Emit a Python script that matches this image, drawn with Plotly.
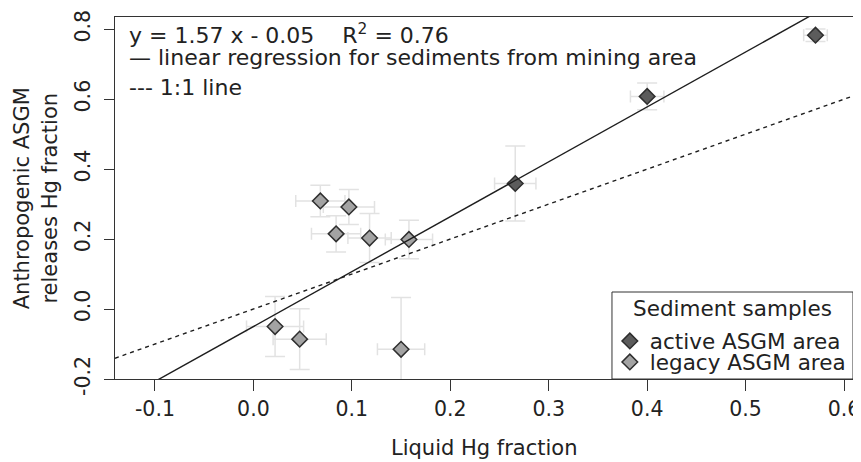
import plotly.graph_objects as go

# ---- data ----
active_x = [0.571, 0.400, 0.266]
active_y = [0.783, 0.608, 0.359]
active_xerr = [0.012, 0.017, 0.021]
active_yerr = [0.018, 0.038, 0.107]

legacy_x = [0.068, 0.097, 0.084, 0.118, 0.158, 0.022, 0.047, 0.150]
legacy_y = [0.309, 0.292, 0.215, 0.203, 0.199, -0.050, -0.086, -0.115]
legacy_xerr = [0.025, 0.026, 0.025, 0.022, 0.024, 0.029, 0.027, 0.024]
legacy_yerr = [0.045, 0.050, 0.052, 0.070, 0.055, 0.086, 0.087, 0.148]

slope = 1.57
intercept = -0.05
r2 = 0.76

x_range = [-0.1406, 0.6091]
y_range = [-0.2, 0.835]
x_ticks = [-0.1, 0.0, 0.1, 0.2, 0.3, 0.4, 0.5, 0.6]
x_ticklabels = ["-0.1", "0.0", "0.1", "0.2", "0.3", "0.4", "0.5", "0.6"]
y_ticks = [-0.2, 0.0, 0.2, 0.4, 0.6, 0.8]
y_ticklabels = ["-0.2", "0.0", "0.2", "0.4", "0.6", "0.8"]

FONT = "DejaVu Sans"
TXT = "#222222"
ERR = "#e2e2e2"
EDGE = "#2e2e2e"

fig = go.Figure()

def err(arr, w):
    return dict(type="data", array=arr, visible=True, color=ERR, thickness=1.5, width=w)

fig.add_trace(go.Scatter(
    x=active_x, y=active_y, mode="markers", name="active ASGM area", legend="legend",
    error_x=err(active_xerr, 6), error_y=err(active_yerr, 10),
    marker=dict(symbol="diamond", size=12, color="#5c5c5c", line=dict(color=EDGE, width=1.5)),
))
fig.add_trace(go.Scatter(
    x=legacy_x, y=legacy_y, mode="markers", name="legacy ASGM area", legend="legend2",
    error_x=err(legacy_xerr, 6), error_y=err(legacy_yerr, 10), cliponaxis=False,
    marker=dict(symbol="diamond", size=12, color="#a3a3a3", line=dict(color=EDGE, width=1.5)),
))

# regression line and 1:1 line across the axis range
lx = [x_range[0], x_range[1]]
fig.add_trace(go.Scatter(
    x=lx, y=[slope * v + intercept for v in lx], mode="lines", showlegend=False,
    line=dict(color="#1e1e1e", width=1.4), hoverinfo="skip",
))
fig.add_trace(go.Scatter(
    x=lx, y=lx, mode="lines", showlegend=False,
    line=dict(color="#1e1e1e", width=1.4, dash="4px,4px"), hoverinfo="skip",
))

axis_common = dict(
    showline=True, linecolor="#333333", linewidth=1, mirror=True,
    ticks="outside", tickcolor="#333333", tickwidth=1,
    showgrid=False, zeroline=False, automargin=False,
    tickfont=dict(family=FONT, size=20.5, color=TXT),
)
fig.update_xaxes(range=x_range, tickvals=x_ticks, ticktext=x_ticklabels,
                 ticklen=11, ticklabelstandoff=0, **axis_common)
fig.update_yaxes(range=y_range, tickvals=y_ticks, ticktext=y_ticklabels,
                 ticklen=10, tickangle=-90, ticklabelstandoff=6, **axis_common)

nb = "\u00a0"
texts = [
    (f"y = {slope:.2f} x - {abs(intercept):.2f}{nb*4}R<sup>2</sup> = {r2:.2f}", 0.952),
    ("\u2014 linear regression for sediments from mining area", 0.888),
    ("--- 1:1 line", 0.806),
]
annotations = []
for t, yy in texts:
    annotations.append(dict(text=t, xref="paper", yref="paper", x=0.016, y=yy,
                            xanchor="left", yanchor="middle", showarrow=False,
                            font=dict(family=FONT, size=22, color=TXT)))
annotations.append(dict(text="Liquid Hg fraction", xref="paper", yref="paper",
                        x=0.5, y=-0.19, xanchor="center", yanchor="middle", showarrow=False,
                        font=dict(family=FONT, size=21, color=TXT)))
annotations.append(dict(text="Anthropogenic ASGM<br>releases Hg fraction", xref="paper", yref="paper",
                        x=-0.108, y=0.5, xanchor="center", yanchor="middle", showarrow=False,
                        textangle=-90,
                        font=dict(family=FONT, size=21, color=TXT)))
# legend title
annotations.append(dict(text="Sediment samples", xref="paper", yref="paper",
                        x=0.8367, y=0.196, xanchor="center", yanchor="middle", showarrow=False,
                        font=dict(family=FONT, size=21.5, color=TXT)))

leg_common = dict(
    xanchor="left", yanchor="middle",
    bgcolor="rgba(0,0,0,0)", borderwidth=0,
    font=dict(family=FONT, size=21.5, color=TXT),
    itemwidth=30, tracegroupgap=0,
)

fig.update_layout(
    width=853, height=454,
    margin=dict(l=107, r=8, t=9, b=83, autoexpand=False),
    paper_bgcolor="white", plot_bgcolor="white",
    font=dict(family=FONT, color=TXT),
    annotations=annotations,
    shapes=[dict(type="rect", xref="paper", yref="paper", x0=0.6734, x1=1.0, y0=0.0, y1=0.2403,
                 fillcolor="white", line=dict(color="#333333", width=1), layer="above")],
    legend=dict(x=0.6705, y=0.105, **leg_common),
    legend2=dict(x=0.6705, y=0.047, **leg_common),
)

fig.write_html("out.html")
